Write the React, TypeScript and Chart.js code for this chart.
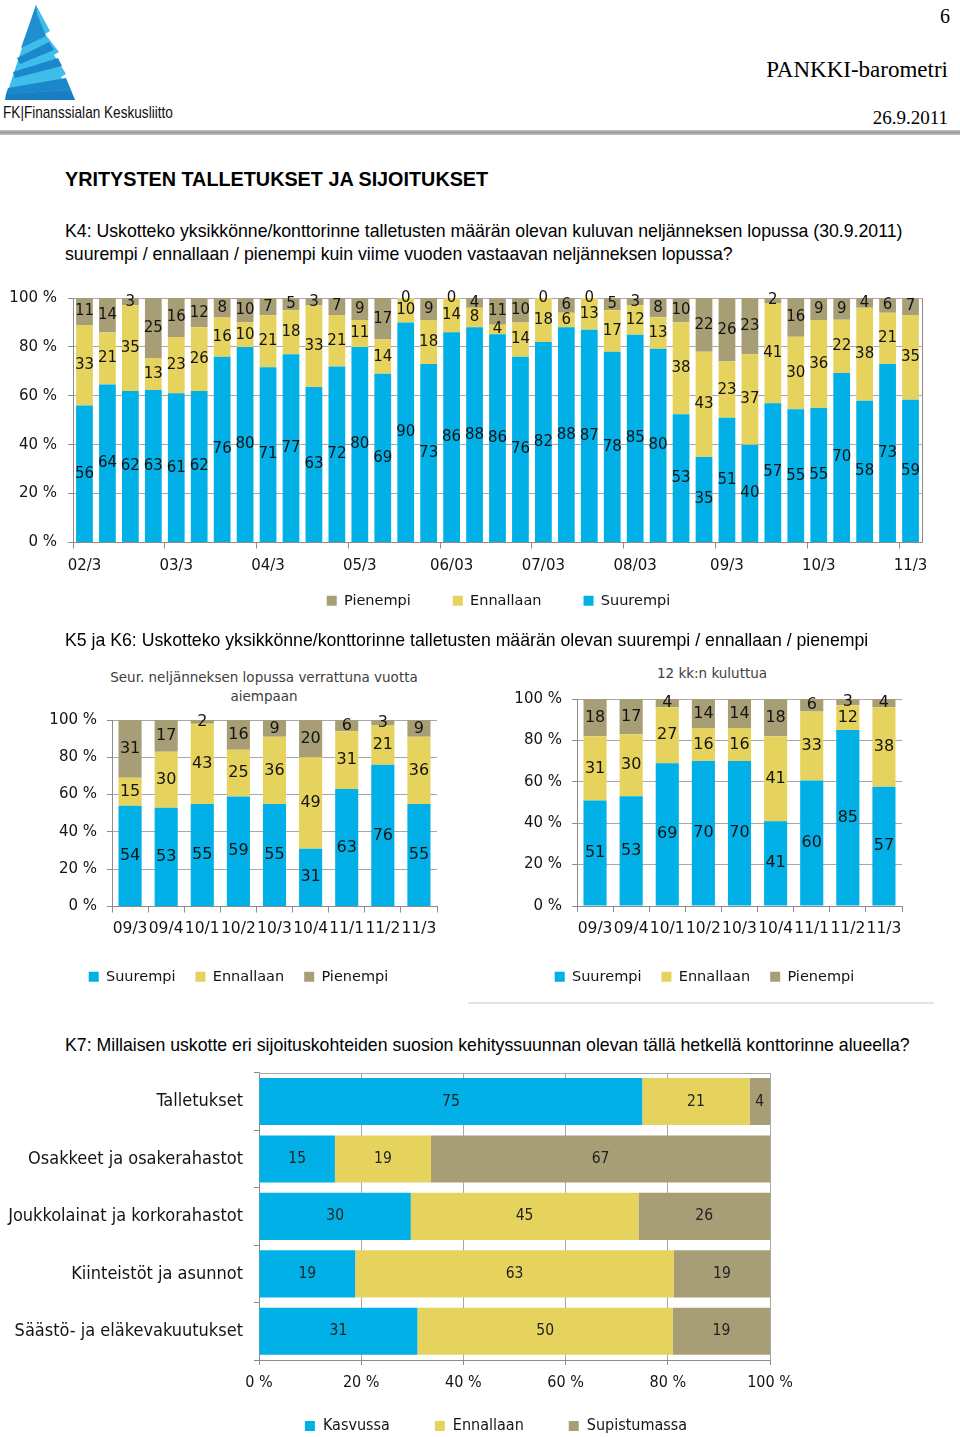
import React, { useEffect, useRef } from "react";
import { Chart, registerables } from "chart.js";

Chart.register(...registerables);

// ---------- colours & fonts ----------
const BLUE = "#00B0E6";
const YELLOW = "#E6D35E";
const OLIVE = "#A79E76";
const GRID = "#A8A8A8";
const AXIS = "#8C8C8C";
const TEXT = "#141414";

const PAGE_FONT = "'Liberation Sans', Arial, sans-serif";
const SERIF = "'Liberation Serif', 'Times New Roman', serif";
const CHART_FONT = "'DejaVu Sans', Verdana, sans-serif";
const COND_FONT = "'DejaVu Sans Condensed', 'DejaVu Sans', sans-serif";

// ---------- K4 data ----------
const k4Quarters = [
  "02/3", "02/4", "03/1", "03/2", "03/3", "03/4", "04/1", "04/2", "04/3", "04/4",
  "05/1", "05/2", "05/3", "05/4", "06/1", "06/2", "06/03", "06/4", "07/1", "07/2",
  "07/03", "07/4", "08/1", "08/2", "08/03", "08/4", "09/1", "09/2", "09/3", "09/4",
  "10/1", "10/2", "10/3", "10/4", "11/1", "11/2", "11/3",
];
const k4Suurempi = [56, 64, 62, 63, 61, 62, 76, 80, 71, 77, 63, 72, 80, 69, 90, 73, 86, 88, 86, 76, 82, 88, 87, 78, 85, 80, 53, 35, 51, 40, 57, 55, 55, 70, 58, 73, 59];
const k4Ennallaan = [33, 21, 35, 13, 23, 26, 16, 10, 21, 18, 33, 21, 11, 14, 10, 18, 14, 8, 4, 14, 18, 6, 13, 17, 12, 13, 38, 43, 23, 37, 41, 30, 36, 22, 38, 21, 35];
const k4Pienempi = [11, 14, 3, 25, 16, 12, 8, 10, 7, 5, 3, 7, 9, 17, 0, 9, 0, 4, 11, 10, 0, 6, 0, 5, 3, 8, 10, 22, 26, 23, 2, 16, 9, 9, 4, 6, 7];

// ---------- K5 / K6 data ----------
const k56Quarters = ["09/3", "09/4", "10/1", "10/2", "10/3", "10/4", "11/1", "11/2", "11/3"];
const k5Suurempi = [54, 53, 55, 59, 55, 31, 63, 76, 55];
const k5Ennallaan = [15, 30, 43, 25, 36, 49, 31, 21, 36];
const k5Pienempi = [31, 17, 2, 16, 9, 20, 6, 3, 9];
const k6Suurempi = [51, 53, 69, 70, 70, 41, 60, 85, 57];
const k6Ennallaan = [31, 30, 27, 16, 16, 41, 33, 12, 38];
const k6Pienempi = [18, 17, 4, 14, 14, 18, 6, 3, 4];

// ---------- K7 data ----------
const k7Kohteet = [
  "Talletukset",
  "Osakkeet ja osakerahastot",
  "Joukkolainat ja korkorahastot",
  "Kiinteistöt ja asunnot",
  "Säästö- ja eläkevakuutukset",
];
const k7Kasvussa = [75, 15, 30, 19, 31];
const k7Ennallaan = [21, 19, 45, 63, 50];
const k7Supistumassa = [4, 67, 26, 19, 19];

const pctTicks = [0, 20, 40, 60, 80, 100];

// ---------- helpers ----------
function toPercent(series: number[][]): number[][] {
  const n = series[0].length;
  const totals = Array.from({ length: n }, (_, i) => series.reduce((s, a) => s + a[i], 0));
  return series.map((a) => a.map((v, i) => (v * 100) / totals[i]));
}

function makeDatasets(
  series: { label: string; values: number[]; color: string }[],
  barPct: number
) {
  const pct = toPercent(series.map((s) => s.values));
  return series.map((s, k) => ({
    label: s.label,
    data: pct[k],
    rawValues: s.values,
    backgroundColor: s.color,
    borderWidth: 0,
    barPercentage: barPct,
    categoryPercentage: 1,
    stack: "s",
  }));
}

const valueLabels = {
  id: "valueLabels",
  afterDatasetsDraw(chart: any, _args: any, opts: any) {
    const ctx = chart.ctx;
    ctx.save();
    ctx.font = opts.font;
    ctx.fillStyle = opts.color || TEXT;
    ctx.textAlign = "center";
    ctx.textBaseline = "middle";
    const horiz = chart.options.indexAxis === "y";
    chart.data.datasets.forEach((ds: any, di: number) => {
      const meta = chart.getDatasetMeta(di);
      meta.data.forEach((el: any, i: number) => {
        const p = el.getProps(["x", "y", "base"], true);
        const x = horiz ? (p.x + p.base) / 2 : p.x;
        const y = horiz ? p.y : (p.y + p.base) / 2;
        ctx.fillText(String(ds.rawValues[i]), x, y + (opts.dy || 0));
      });
    });
    ctx.restore();
  },
};

const frameLines = {
  id: "frameLines",
  afterDraw(chart: any, _args: any, opts: any) {
    const { ctx, chartArea } = chart;
    ctx.save();
    ctx.strokeStyle = opts.color || AXIS;
    ctx.lineWidth = 1;
    if (opts.right) {
      ctx.beginPath();
      ctx.moveTo(Math.round(chartArea.right) + 0.5, chartArea.top);
      ctx.lineTo(Math.round(chartArea.right) + 0.5, chartArea.bottom);
      ctx.stroke();
    }
    if (opts.top) {
      ctx.beginPath();
      ctx.moveTo(chartArea.left, Math.round(chartArea.top) + 0.5);
      ctx.lineTo(chartArea.right, Math.round(chartArea.top) + 0.5);
      ctx.stroke();
    }
    ctx.restore();
  },
};

// moves the legend box after layout (to match the original legend placement)
const legendShift = {
  id: "legendShift",
  afterLayout(chart: any, _args: any, opts: any) {
    const lg = chart.legend;
    if (!lg) return;
    const dx = opts.dx || 0;
    const dy = opts.dy || 0;
    lg.left += dx;
    lg.right += dx;
    lg.top += dy;
    lg.bottom += dy;
  },
};

function ChartBox({ box, config }: { box: React.CSSProperties; config: () => any }) {
  const ref = useRef<HTMLCanvasElement>(null);
  useEffect(() => {
    const chart = new Chart(ref.current as HTMLCanvasElement, config());
    return () => chart.destroy();
  }, []);
  return (
    <div style={{ position: "absolute", ...box }}>
      <canvas ref={ref} />
    </div>
  );
}

// ---------- chart configs ----------
function k4Config() {
  return {
    type: "bar",
    data: {
      labels: k4Quarters,
      datasets: makeDatasets(
        [
          { label: "Suurempi", values: k4Suurempi, color: BLUE },
          { label: "Ennallaan", values: k4Ennallaan, color: YELLOW },
          { label: "Pienempi", values: k4Pienempi, color: OLIVE },
        ],
        0.73
      ),
    },
    plugins: [valueLabels, frameLines, legendShift],
    options: {
      animation: false,
      responsive: true,
      maintainAspectRatio: false,
      layout: { padding: { top: 0, left: 0, right: 38, bottom: 0 } },
      plugins: {
        tooltip: { enabled: false },
        valueLabels: { font: `15px ${CHART_FONT}`, color: TEXT },
        frameLines: { right: true, color: AXIS },
        legendShift: { dx: 1, dy: -25 },
        legend: {
          position: "bottom",
          fullSize: false,
          reverse: true,
          labels: {
            boxWidth: 10,
            boxHeight: 10,
            padding: 42,
            color: TEXT,
            font: { family: CHART_FONT, size: 14.5 },
          },
        },
      },
      scales: {
        x: {
          stacked: true,
          offset: true,
          grid: {
            offset: true,
            drawOnChartArea: false,
            drawTicks: true,
            tickLength: 6,
            tickColor: (c: any) => (c.index !== undefined && c.index % 4 === 0 ? AXIS : "rgba(0,0,0,0)"),
          },
          border: { display: true, color: AXIS },
          ticks: {
            autoSkip: false,
            maxRotation: 0,
            minRotation: 0,
            padding: 9,
            color: TEXT,
            font: { family: CHART_FONT, size: 15 },
            callback: (_v: any, i: number) => (i % 4 === 0 ? k4Quarters[i] : ""),
          },
          afterFit: (s: any) => {
            s.height = 34;
          },
        },
        y: {
          stacked: true,
          min: 0,
          max: 100,
          afterBuildTicks: (s: any) => {
            s.ticks = pctTicks.map((v) => ({ value: v }));
          },
          ticks: {
            padding: 11,
            color: TEXT,
            font: { family: CHART_FONT, size: 15 },
            callback: (v: any) => `${v} %`,
          },
          grid: { color: GRID, tickLength: 5, tickColor: AXIS },
          border: { display: true, color: AXIS },
          afterFit: (s: any) => {
            s.width = 73;
          },
        },
      },
    },
  };
}

function k56Config(
  s: number[], e: number[], p: number[],
  padLeft: number, yWidth: number, xHeight: number, xPad: number
) {
  return {
    type: "bar",
    data: {
      labels: k56Quarters,
      datasets: makeDatasets(
        [
          { label: "Suurempi", values: s, color: BLUE },
          { label: "Ennallaan", values: e, color: YELLOW },
          { label: "Pienempi", values: p, color: OLIVE },
        ],
        0.64
      ),
    },
    plugins: [valueLabels],
    options: {
      animation: false,
      responsive: true,
      maintainAspectRatio: false,
      layout: { padding: { top: 0, left: padLeft, right: 10, bottom: 0 } },
      plugins: {
        tooltip: { enabled: false },
        valueLabels: { font: `16px ${CHART_FONT}`, color: TEXT },
        legend: {
          position: "bottom",
          labels: {
            boxWidth: 10,
            boxHeight: 10,
            padding: 20,
            color: TEXT,
            font: { family: CHART_FONT, size: 14.5 },
          },
        },
      },
      scales: {
        x: {
          stacked: true,
          offset: true,
          grid: { offset: true, drawOnChartArea: false, tickLength: 6, tickColor: AXIS },
          border: { display: true, color: AXIS },
          ticks: {
            autoSkip: false,
            maxRotation: 0,
            minRotation: 0,
            padding: xPad,
            color: TEXT,
            font: { family: CHART_FONT, size: 15.5 },
          },
          afterFit: (sc: any) => {
            sc.height = xHeight;
          },
        },
        y: {
          stacked: true,
          min: 0,
          max: 100,
          afterBuildTicks: (sc: any) => {
            sc.ticks = pctTicks.map((v) => ({ value: v }));
          },
          ticks: {
            padding: 10,
            color: TEXT,
            font: { family: CHART_FONT, size: 15 },
            callback: (v: any) => `${v} %`,
          },
          grid: { color: GRID, tickLength: 5, tickColor: AXIS },
          border: { display: true, color: AXIS },
          afterFit: (sc: any) => {
            sc.width = yWidth;
          },
        },
      },
    },
  };
}

function k7Config() {
  return {
    type: "bar",
    data: {
      labels: k7Kohteet,
      datasets: makeDatasets(
        [
          { label: "Kasvussa", values: k7Kasvussa, color: BLUE },
          { label: "Ennallaan", values: k7Ennallaan, color: YELLOW },
          { label: "Supistumassa", values: k7Supistumassa, color: OLIVE },
        ],
        0.82
      ),
    },
    plugins: [valueLabels, frameLines, legendShift],
    options: {
      indexAxis: "y",
      animation: false,
      responsive: true,
      maintainAspectRatio: false,
      layout: { padding: { top: 0, left: 0, right: 40, bottom: 0 } },
      plugins: {
        tooltip: { enabled: false },
        valueLabels: { font: `15.5px ${COND_FONT}`, color: "#222" },
        frameLines: { top: true, color: GRID },
        legendShift: { dx: 111, dy: -20 },
        legend: {
          position: "bottom",
          labels: {
            boxWidth: 10,
            boxHeight: 10,
            padding: 45,
            color: TEXT,
            font: { family: COND_FONT, size: 16 },
          },
        },
      },
      scales: {
        x: {
          stacked: true,
          min: 0,
          max: 100,
          afterBuildTicks: (sc: any) => {
            sc.ticks = pctTicks.map((v) => ({ value: v }));
          },
          ticks: {
            padding: 8,
            color: TEXT,
            font: { family: COND_FONT, size: 16 },
            callback: (v: any) => `${v} %`,
          },
          grid: { color: GRID, tickLength: 5, tickColor: AXIS },
          border: { display: true, color: AXIS },
          afterFit: (sc: any) => {
            sc.height = 33;
          },
        },
        y: {
          stacked: true,
          offset: true,
          grid: { offset: true, drawOnChartArea: false, tickLength: 5, tickColor: AXIS },
          border: { display: true, color: AXIS },
          ticks: {
            padding: 11,
            color: TEXT,
            font: { family: COND_FONT, size: 18 },
          },
          afterFit: (sc: any) => {
            sc.width = 259;
          },
        },
      },
    },
  };
}

// ---------- page text ----------
function Txt({
  x, y, size, children, family = PAGE_FONT, weight = 400, align = "left", color = "#000", scaleX = 1,
}: any) {
  const lh = size * 1.2;
  const style: React.CSSProperties = {
    position: "absolute",
    top: y - lh / 2,
    fontFamily: family,
    fontSize: size,
    fontWeight: weight,
    lineHeight: `${lh}px`,
    color,
    whiteSpace: "nowrap",
  };
  if (align === "left") {
    style.left = x;
    if (scaleX !== 1) {
      style.transform = `scaleX(${scaleX})`;
      style.transformOrigin = "left center";
    }
  } else if (align === "right") {
    style.right = 960 - x;
  } else {
    style.left = x - 400;
    style.width = 800;
    style.textAlign = "center";
  }
  return <div style={style}>{children}</div>;
}

function Logo() {
  return (
    <svg style={{ position: "absolute", left: 0, top: 0 }} width="90" height="104">
      <polygon points="36,5 50,31 45,34 59,52 54,55 66,74 61,77 75,100 5,100" fill="#3FBDEB" />
      <polygon points="36,5 21,48 46,36 37,14" fill="#1F8FD0" />
      <polygon points="17,58 49,42 54,50 20,64" fill="#1B88CB" />
      <polygon points="13,72 58,58 62,66 15,78" fill="#1B88CB" />
      <polygon points="8,88 66,78 71,90 6,94" fill="#1B88CB" />
      <polygon points="6,94 71,90 75,100 5,100" fill="#1A7FC2" />
    </svg>
  );
}

export default function App() {
  return (
    <div
      style={{
        position: "absolute",
        left: 0,
        top: 0,
        width: 960,
        height: 1437,
        overflow: "hidden",
        background: "#fff",
      }}
    >
      <Logo />
      <Txt x={3} y={113} size={17} family={PAGE_FONT} scaleX={0.8} color="#111">
        FK|Finanssialan Keskusliitto
      </Txt>
      <Txt x={950} y={16} size={20} family={SERIF} align="right">6</Txt>
      <Txt x={948} y={70} size={23} family={SERIF} align="right">PANKKI-barometri</Txt>
      <Txt x={948} y={118} size={19} family={SERIF} align="right">26.9.2011</Txt>
      <div style={{ position: "absolute", left: 0, top: 130, width: 960, height: 5, background: "linear-gradient(#c4c4c4, #9a9a9a, #c4c4c4)" }} />

      <Txt x={65} y={180} size={19.8} weight={700}>YRITYSTEN TALLETUKSET JA SIJOITUKSET</Txt>
      <Txt x={65} y={232} size={17.7}>
        K4: Uskotteko yksikkönne/konttorinne talletusten määrän olevan kuluvan neljänneksen lopussa (30.9.2011)
      </Txt>
      <Txt x={65} y={255} size={17.7}>
        suurempi / ennallaan / pienempi kuin viime vuoden vastaavan neljänneksen lopussa?
      </Txt>

      <ChartBox box={{ left: 0, top: 278, width: 960, height: 365 }} config={k4Config} />

      <Txt x={65} y={641} size={17.7}>
        K5 ja K6: Uskotteko yksikkönne/konttorinne talletusten määrän olevan suurempi / ennallaan / pienempi
      </Txt>

      <Txt x={264} y={677} size={13.5} family={CHART_FONT} align="center" color="#404040">
        Seur. neljänneksen lopussa verrattuna vuotta
      </Txt>
      <Txt x={264} y={696} size={13.5} family={CHART_FONT} align="center" color="#404040">
        aiempaan
      </Txt>
      <Txt x={712} y={673} size={13.5} family={CHART_FONT} align="center" color="#404040">
        12 kk:n kuluttua
      </Txt>

      <ChartBox
        box={{ left: 40, top: 701, width: 407, height: 293 }}
        config={() => k56Config(k5Suurempi, k5Ennallaan, k5Pienempi, 0, 72, 43, 7)}
      />
      <ChartBox
        box={{ left: 490, top: 680, width: 422, height: 314 }}
        config={() => k56Config(k6Suurempi, k6Ennallaan, k6Pienempi, 17, 70, 43.5, 8)}
      />
      <div style={{ position: "absolute", left: 468, top: 1002, width: 466, height: 2, background: "#e4e4e4" }} />

      <Txt x={65} y={1046} size={17.7}>
        K7: Millaisen uskotte eri sijoituskohteiden suosion kehityssuunnan olevan tällä hetkellä konttorinne alueella?
      </Txt>

      <ChartBox box={{ left: 0, top: 1051, width: 810, height: 413 }} config={k7Config} />
    </div>
  );
}
